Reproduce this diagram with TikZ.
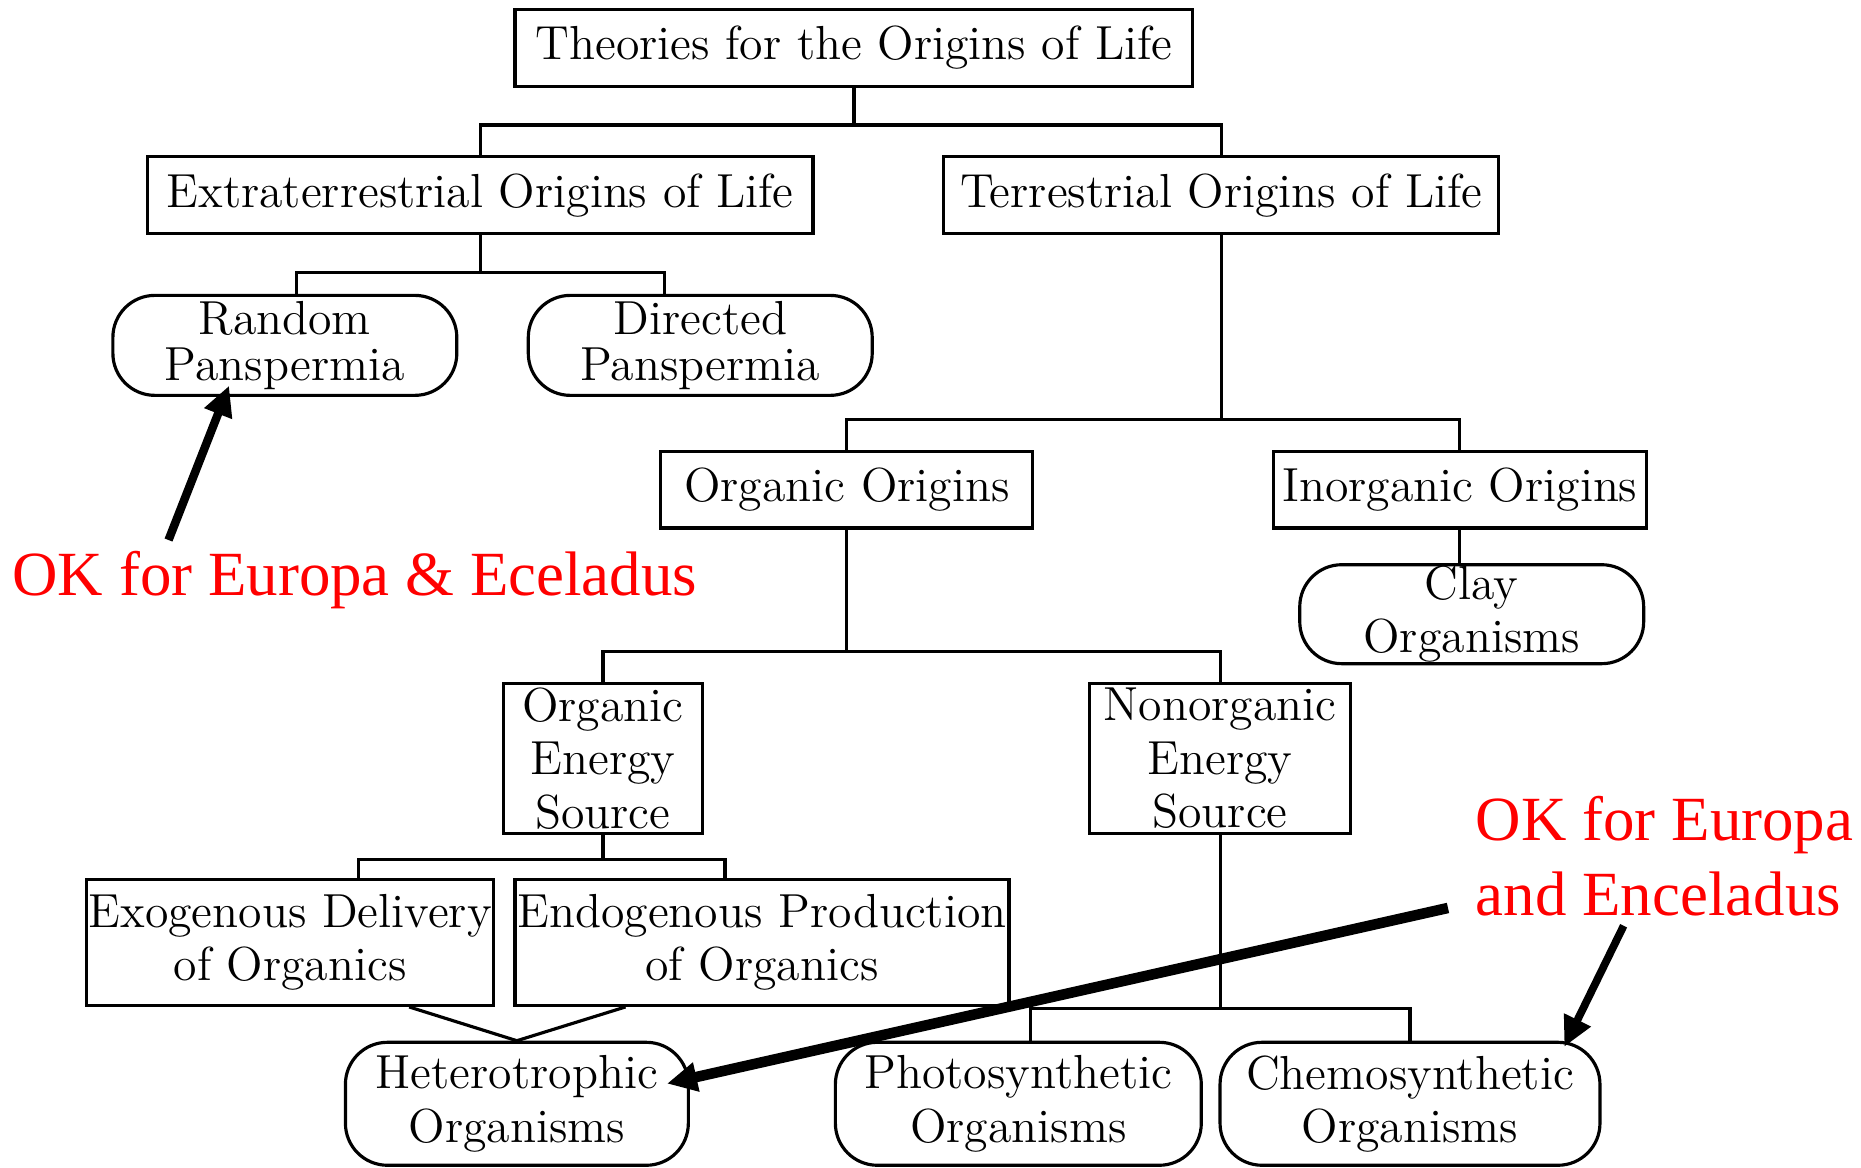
\documentclass[tikz,border=0pt]{standalone}
\usepackage{fontspec}
\newfontfamily\notefont{Liberation Serif}[Ligatures=TeX]
\usetikzlibrary{
    arrows.meta
}
\tikzset{
    >=Stealth,
    theory/.style={
        draw,
        line width=0.9pt,
        align=center,
        inner sep=0pt,
        minimum height=0.77cm,
        font=\fontsize{13.6}{15.2}\selectfont
    },
    organism/.style={
        theory,
        rounded corners=0.42cm,
        minimum height=1cm
    },
    tree/.style={line width=0.9pt},
    note/.style={
        text=red,
        align=left,
        inner sep=0pt,
        anchor=north west,
        font=\fontsize{17.9}{21.3}\notefont
    },
    pointer/.style={
        -{Triangle[length=0.3cm,width=0.28cm]},
        line width=2.4pt
    }
}

\begin{document}
\begin{tikzpicture}[
    x=0.011869cm,
    y=-0.011869cm
]
    \useasboundingbox (0,0) rectangle (1568,984);

    % Raiz
    \node[theory, minimum width=6.78cm]  (top)   at (719.5,40.5) {Theories for the Origins of Life};

    % Primer nivel
    \node[theory, minimum width=6.66cm]  (extra) at (404.5,164.5) {Extraterrestrial Origins of Life};
    \node[theory, minimum width=5.55cm]  (terr)  at (1029,164.5)  {Terrestrial Origins of Life};

    % Panspermia
    \node[organism, minimum width=3.44cm] (random)   at (240,291) {Random\\[-2pt]Panspermia};
    \node[organism, minimum width=3.44cm] (directed) at (590,291) {Directed\\[-2pt]Panspermia};

    % Origenes terrestres
    \node[theory, minimum width=3.72cm]  (organic) at (713.5,412.5) {Organic Origins};
    \node[theory, minimum width=3.73cm]  (inorg)   at (1230,412.5)  {Inorganic Origins};
    \node[organism, minimum width=3.44cm, minimum height=0.99cm] (clay) at (1240,517.5) {Clay\\Organisms};

    % Fuentes de energia
    \node[theory, minimum width=1.99cm, minimum height=1.5cm] (oes) at (508,639)  {Organic\\Energy\\Source};
    \node[theory, minimum width=2.61cm, minimum height=1.5cm] (nes) at (1028,639) {Nonorganic\\Energy\\Source};

    % Organicos
    \node[theory, minimum width=4.07cm, minimum height=1.26cm] (exo)  at (244.5,794) {Exogenous Delivery\\of Organics};
    \node[theory, minimum width=4.94cm, minimum height=1.26cm] (endo) at (642,794)   {Endogenous Production\\of Organics};

    % Organismos
    \node[organism, minimum width=3.43cm, minimum height=1.23cm] (hetero) at (435.5,930) {Heterotrophic\\Organisms};
    \node[organism, minimum width=3.66cm, minimum height=1.23cm] (photo)  at (858,930)   {Photosynthetic\\Organisms};
    \node[organism, minimum width=3.80cm, minimum height=1.23cm] (chemo)  at (1188,930)  {Chemosynthetic\\Organisms};

    % Conexiones
    \draw[tree] (top.south) -- ++(0,31) -| (extra.north);
    \draw[tree] (top.south) ++(0,31) -| (terr.north);

    \draw[tree] (extra.south) -- ++(0,31) -| ([xshift=0.12cm]random.north);
    \draw[tree] (extra.south) ++(0,31) -| ([xshift=-0.36cm]directed.north);

    \draw[tree] (terr.south) -- ++(0,155) -| (organic.north);
    \draw[tree] (terr.south) ++(0,155) -| (inorg.north);
    \draw[tree] (inorg.south) -- (inorg.south |- clay.north);

    \draw[tree] (organic.south) -- ++(0,103) -| (oes.north);
    \draw[tree] (organic.south) ++(0,103) -| (nes.north);

    \draw[tree] (oes.south) -- ++(0,21) -| ([xshift=0.68cm]exo.north);
    \draw[tree] (oes.south) ++(0,21) -| ([xshift=-0.37cm]endo.north);
    \draw[tree] ([xshift=1.19cm]exo.south) -- (hetero.north);
    \draw[tree] ([xshift=-1.365cm]endo.south) -- (hetero.north);

    \draw[tree] (nes.south) -- ++(0,146) -| ([xshift=0.12cm]photo.north);
    \draw[tree] (nes.south) ++(0,146) -| (chemo.north);

    % Notas
    \node[note] (ok1) at (10,464)   {OK for Europa \& Eceladus};
    \node[note] (ok2) at (1243,670) {OK for Europa\\and Enceladus};

    \coordinate (tail1) at (142,455);
    \coordinate (tip1)  at (193,325);
    \coordinate (tail2) at (1220,765);
    \coordinate (tip2)  at (562,913);
    \coordinate (tail3) at (1368,780);
    \coordinate (tip3)  at (1318,882);

    \draw[pointer] (tail1) -- (tip1);
    \draw[pointer, line width=3pt] (tail2) -- (tip2);
    \draw[pointer, line width=2.2pt] (tail3) -- (tip3);

\end{tikzpicture}
\end{document}
